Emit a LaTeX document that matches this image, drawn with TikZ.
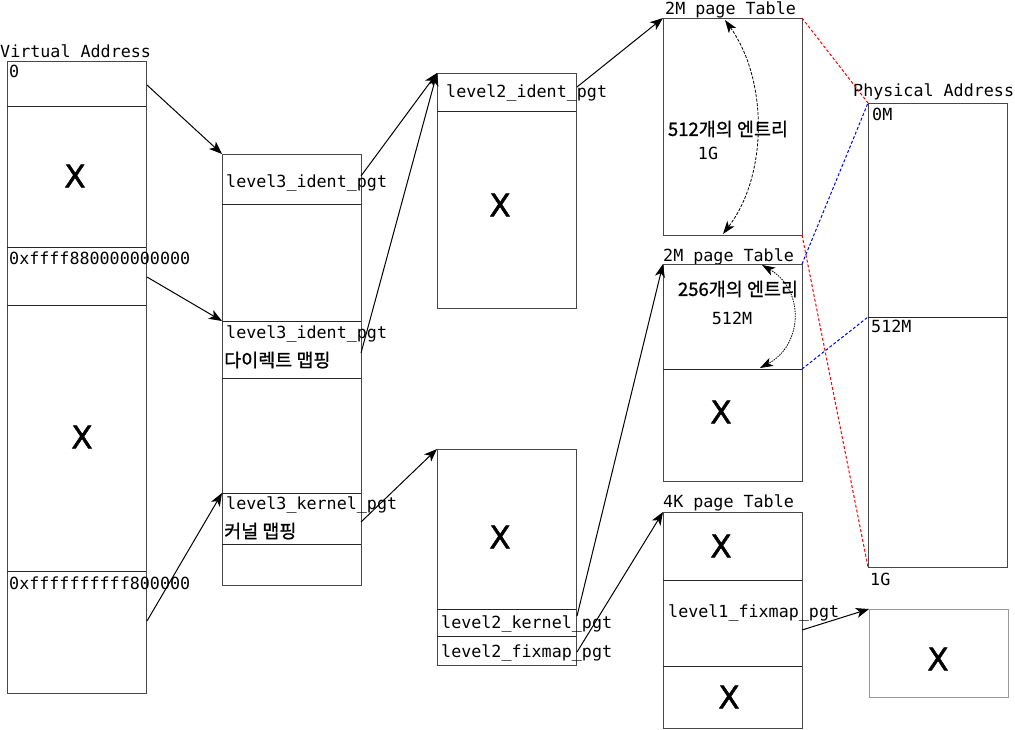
\documentclass[tikz,border=0pt]{standalone}
\usepackage{fontspec}
\setmainfont{DejaVu Sans}
\setmonofont{DejaVu Sans Mono}
\newfontfamily\kr[FakeBold=1]{Noto Sans CJK KR}
\newfontfamily\xfont[FakeBold=1.5]{DejaVu Sans}
\usetikzlibrary{arrows.meta}
\begin{document}
\begin{tikzpicture}[x=1pt,y=-1pt,
  box/.style={draw=black!72, line width=1pt, inner sep=0pt, outer sep=0pt, anchor=north west},
  lightbox/.style={box, draw=black!40},
  sepline/.style={draw=black!85, line width=1pt},
  mono/.style={font=\ttfamily\fontsize{16.7}{20}\selectfont, inner sep=0pt, anchor=base west},
  monoc/.style={font=\ttfamily\fontsize{16.7}{20}\selectfont, inner sep=0pt},
  bigx/.style={font=\xfont\fontsize{31}{36}\selectfont, inner sep=0pt},
  kor/.style={font=\kr\fontsize{18.5}{22}\selectfont, inner sep=0pt},
  arr/.style={-{Stealth[length=13pt,width=10pt,inset=3.5pt]}, line width=1pt, black},
  span/.style={{Stealth[length=13pt,width=9pt,inset=3.5pt]}-{Stealth[length=13pt,width=9pt,inset=3.5pt]}, line width=0.8pt, black},
  reddash/.style={draw=red, line width=1pt, dash pattern=on 3pt off 2pt},
  bluedash/.style={draw=blue, line width=1pt, dash pattern=on 3pt off 2pt}
]
\useasboundingbox (0,0) rectangle (1015,729);

% ---------------- Virtual address ----------------
\node[mono] (vatitle) at (0,57) {Virtual Address};
\node[box, minimum width=139pt, minimum height=632pt] (va) at (7,61) {};
\draw[sepline] (7,106) -- (146,106);
\draw[sepline] (7,247) -- (146,247);
\draw[sepline] (7,305) -- (146,305);
\draw[sepline] (7,571) -- (146,571);
\node[mono] (va0) at (9,77) {0};
\node[bigx] (vax1) at (75,176) {X};
\node[mono] (va1) at (9,264) {0xffff880000000000};
\node[bigx] (vax2) at (82,437) {X};
\node[mono] (va2) at (9,589) {0xffffffffff800000};

% ---------------- level3 ----------------
\node[box, minimum width=139pt, minimum height=431pt] (l3) at (222,154) {};
\draw[sepline] (222,204) -- (361,204);
\draw[sepline] (222,321) -- (361,321);
\draw[sepline] (222,378) -- (361,378);
\draw[sepline] (222,493) -- (361,493);
\draw[sepline] (222,544) -- (361,544);
\node[mono] (l3a) at (226,187) {level3\_ident\_pgt};
\node[mono] (l3b) at (226,338) {level3\_ident\_pgt};
\node[kor, anchor=west] (l3bk) at (224,360) {다이렉트 맵핑};
\node[mono] (l3c) at (226,509) {level3\_kernel\_pgt};
\node[kor, anchor=west] (l3ck) at (224,531) {커널 맵핑};

% ---------------- level2 ident ----------------
\node[box, minimum width=139pt, minimum height=235pt] (l2i) at (437,73) {};
\draw[sepline] (437,111) -- (576,111);
\node[mono] (l2ia) at (446,97) {level2\_ident\_pgt};
\node[bigx] (l2ix) at (500,205) {X};

% ---------------- level2 kernel ----------------
\node[box, minimum width=139pt, minimum height=216pt] (l2k) at (437,449) {};
\draw[sepline] (437,609) -- (576,609);
\draw[sepline] (437,636) -- (576,636);
\node[bigx] (l2kx) at (500,537) {X};
\node[mono] (l2ka) at (441,628) {level2\_kernel\_pgt};
\node[mono] (l2kb) at (441,657) {level2\_fixmap\_pgt};

% ---------------- 2M page table 1 ----------------
\node[mono] (t1title) at (665,14) {2M page Table};
\node[box, minimum width=139pt, minimum height=217pt] (t1) at (663,18) {};
\node[kor] (t1k) at (728,129) {512개의 엔트리};
\node[monoc] (t1g) at (708,153) {1G};

% ---------------- 2M page table 2 ----------------
\node[mono] (t2title) at (663,261) {2M page Table};
\node[box, minimum width=139pt, minimum height=217pt] (t2) at (663,264) {};
\draw[sepline] (663,369) -- (802,369);
\node[kor] (t2k) at (738,289) {256개의 엔트리};
\node[monoc] (t2m) at (732,318) {512M};
\node[bigx] (t2x) at (721,412) {X};

% ---------------- 4K page table ----------------
\node[mono] (t3title) at (663,507) {4K page Table};
\node[box, minimum width=139pt, minimum height=216pt] (t3) at (663,512) {};
\draw[sepline] (663,580) -- (802,580);
\draw[sepline] (663,666) -- (802,666);
\node[bigx] (t3x1) at (721,546) {X};
\node[mono] (t3a) at (668,617) {level1\_fixmap\_pgt};
\node[bigx] (t3x2) at (729,697) {X};

% ---------------- Physical address ----------------
\node[mono] (patitle) at (853,96) {Physical Address};
\node[box, minimum width=139pt, minimum height=464pt] (pa) at (868,103) {};
\draw[sepline] (868,317) -- (1007,317);
\node[mono] (pa0) at (872,120) {0M};
\node[mono] (pa1) at (871,332) {512M};
\node[mono] (pa2) at (870,585) {1G};

% ---------------- small box ----------------
\node[lightbox, minimum width=139pt, minimum height=88pt] (fx) at (869,609) {};
\node[bigx] (fxx) at (938,659) {X};

% ---------------- connector coordinates ----------------
\coordinate (s1) at (147,85);
\coordinate (s2) at (147,277);
\coordinate (s3) at (147,621);
\coordinate (s4) at (361,176);
\coordinate (s5) at (361,353);
\coordinate (s6) at (361,522);
\coordinate (s7) at (577,87);
\coordinate (s8) at (577,616);
\coordinate (s9) at (577,652);
\coordinate (s10) at (802,630);
\coordinate (e2) at (222,321);
\coordinate (e3) at (222,493);

% ---------------- arrows ----------------
\draw[arr] (s1) -- (l3.north west);
\draw[arr] (s2) -- (e2);
\draw[arr] (s3) -- (e3);
\draw[arr] (s4) -- (l2i.north west);
\draw[arr] (s5) -- (l2i.north west);
\draw[arr] (s6) -- (l2k.north west);
\draw[arr] (s7) -- (t1.north west);
\draw[arr] (s8) -- (t2.north west);
\draw[arr] (s9) -- (t3.north west);
\draw[arr] (s10) -- (fx.north west);

% ---------------- span arrows ----------------
\coordinate (c1a) at (725,20);
\coordinate (c1b) at (723,234);
\draw[span, dash pattern=on 3pt off 1.5pt] (c1a) .. controls (768,80) and (768,175) .. (c1b);
\coordinate (c2a) at (762,265);
\coordinate (c2b) at (760,368);
\draw[span, dash pattern=on 1.5pt off 1pt] (c2a) .. controls (805,290) and (803,345) .. (c2b);

% ---------------- mapping lines ----------------
\coordinate (t2mid) at (802,369);
\coordinate (pamid) at (868,317);
\draw[reddash] (t1.north east) -- (pa.north west);
\draw[reddash] (t1.south east) -- (pa.south west);
\draw[bluedash] (t2.north east) -- (pa.north west);
\draw[bluedash] (t2mid) -- (pamid);
\end{tikzpicture}
\end{document}
